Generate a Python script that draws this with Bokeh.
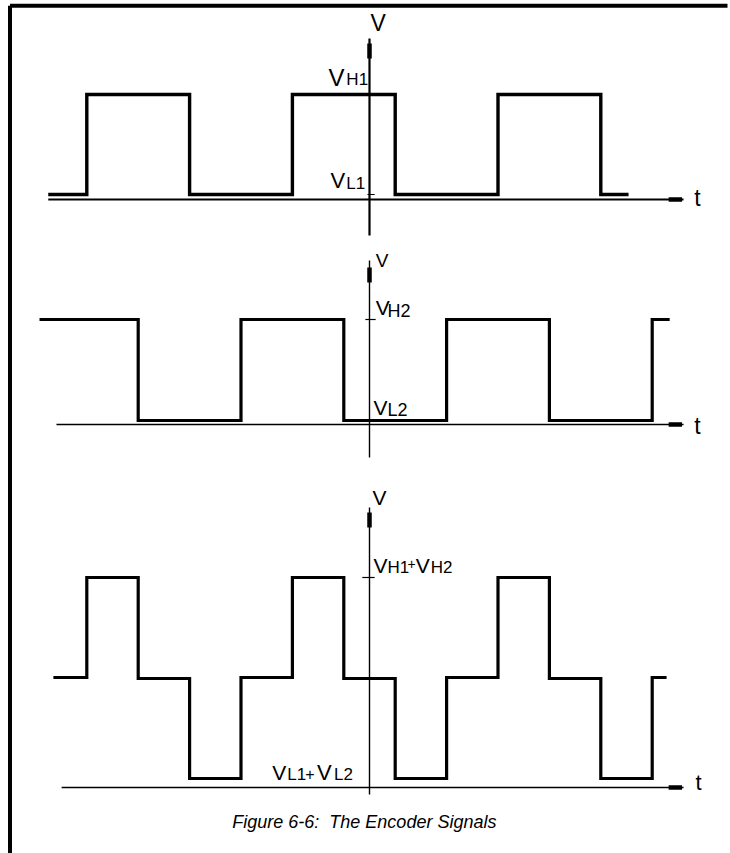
from bokeh.plotting import figure
from bokeh.models import Range1d
from bokeh.core.properties import value
from bokeh.embed import file_html
from bokeh.resources import INLINE

# ---------------- data ----------------
# time in quarter-period units (t = 0 on the V axis), voltage in arbitrary units
sig1_edges = [-5.5, -3.5, -1.5, 0.5, 2.5, 4.5]   # encoder signal 1 transitions
sig2_edges = [-4.5, -2.5, -0.5, 1.5, 3.5, 5.5]   # encoder signal 2 transitions
sig1_start_high = False
sig2_start_high = True
sig1_span = [-6.25, 5.04]
sig2_span = [-6.42, 5.84]
sum_span = [-6.15, 5.78]
V_L1, V_H1 = 0.05, 1.05
V_L2, V_H2 = 0.04, 1.05

caption = "Figure 6-6:\u00a0 The Encoder Signals"

# ---------------- layout constants ----------------
W, H = 730, 853
PX_PER_T = 51.4
AXIS_PX = 369          # V axis position (pixels from left)
PX_PER_V = 100.0
base_px = [199, 424, 787]   # baseline (V=0) of each panel, pixels from top
FONT = "'Liberation Sans', Arial, Helvetica, sans-serif"
LABEL_DY = 0.08        # raise of the labels above their nominal baseline

x_start = -AXIS_PX / PX_PER_T
x_end = (W - AXIS_PX) / PX_PER_T
span_v = H / PX_PER_V


def yrange(b):
    end = b / PX_PER_V
    return Range1d(end - span_v, end)


p = figure(width=W, height=H, x_range=Range1d(x_start, x_end), y_range=yrange(base_px[0]),
           x_axis_type=None, y_axis_type=None, min_border=0, toolbar_location=None,
           output_backend="svg", outline_line_color=None, background_fill_color="white",
           border_fill_color="white")
p.grid.visible = False
p.extra_y_ranges = {"p2": yrange(base_px[1]), "p3": yrange(base_px[2])}
RN = ["default", "p2", "p3"]


def steps(edges, span, lo, hi, start_high):
    state = start_high
    xs, ys = [span[0]], [hi if state else lo]
    for e in edges:
        xs.append(e); ys.append(hi if state else lo)
        state = not state
        xs.append(e); ys.append(hi if state else lo)
    xs.append(span[1]); ys.append(hi if state else lo)
    return xs, ys


def level_at(edges, lo, hi, start_high, t):
    n = sum(1 for e in edges if e <= t)
    state = start_high if n % 2 == 0 else (not start_high)
    return hi if state else lo


def sum_steps():
    all_edges = sorted(sig1_edges + sig2_edges)
    f = lambda t: (level_at(sig1_edges, V_L1, V_H1, sig1_start_high, t)
                   + level_at(sig2_edges, V_L2, V_H2, sig2_start_high, t))
    xs, ys = [sum_span[0]], [f(sum_span[0])]
    for e in all_edges:
        xs.append(e); ys.append(f(e - 1e-6))
        xs.append(e); ys.append(f(e + 1e-6))
    xs.append(sum_span[1]); ys.append(f(sum_span[1]))
    return xs, ys


# ---------------- borders (left edge and top edge) ----------------
left_t = (9.5 - AXIS_PX) / PX_PER_T
top_v = (base_px[0] - 5.3) / PX_PER_V
p.segment(x0=[left_t], x1=[left_t], y0=[top_v], y1=[-10],
          line_color="black", line_width=4)
p.segment(x0=[left_t], x1=[(727 - AXIS_PX) / PX_PER_T], y0=[top_v], y1=[top_v],
          line_color="black", line_width=4)

# ---------------- axes ----------------
axis_v = [(1.61, -0.36), (1.64, -0.33), (2.80, -0.07)]
arrow_v = [(1.56, 1.41), (1.57, 1.42), (2.75, 2.60)]
axis_w = [2.2, 1.4, 1.4]
base_start = [-6.25, -6.09, -5.99]
base_end = 6.11
arrow_t = (5.82, 6.08)
for i in range(3):
    kw = {} if i == 0 else {"y_range_name": RN[i]}
    p.segment(x0=[0], x1=[0], y0=[axis_v[i][1]], y1=[axis_v[i][0]],
              line_color="black", line_width=axis_w[i], **kw)
    p.segment(x0=[0], x1=[0], y0=[arrow_v[i][1]], y1=[arrow_v[i][0]],
              line_color="black", line_width=4.5, **kw)
    p.segment(x0=[base_start[i]], x1=[base_end], y0=[0], y1=[0],
              line_color="black", line_width=2 if i == 0 else 1.6, **kw)
    p.segment(x0=[arrow_t[0]], x1=[arrow_t[1]], y0=[0], y1=[0],
              line_color="black", line_width=4.5, **kw)

# ticks on axes
p.segment(x0=[-0.04], x1=[0.10], y0=[V_L1], y1=[V_L1], line_color="black", line_width=1.2)
p.segment(x0=[-0.08], x1=[0.12], y0=[V_H2], y1=[V_H2], line_color="black",
          line_width=1.2, y_range_name="p2")
p.segment(x0=[-0.14], x1=[0.10], y0=[V_H1 + V_H2], y1=[V_H1 + V_H2], line_color="black",
          line_width=1.2, y_range_name="p3")

# ---------------- signals ----------------
x1, y1 = steps(sig1_edges, sig1_span, V_L1, V_H1, sig1_start_high)
p.line(x1, y1, line_color="black", line_width=3.4, line_join="miter")
x2, y2 = steps(sig2_edges, sig2_span, V_L2, V_H2, sig2_start_high)
p.line(x2, y2, line_color="black", line_width=3.2, line_join="miter", y_range_name="p2")
x3, y3 = sum_steps()
p.line(x3, y3, line_color="black", line_width=3.2, line_join="miter", y_range_name="p3")

# ---------------- labels ----------------
# (text, t, v, size, panel)
labels = [
    ("V", 0.02, 1.69, 23, 0), ("t", 6.32, -0.06, 23, 0),
    ("V", -0.80, 1.14, 24, 0), ("H1", -0.45, 1.12, 17, 0),
    ("V", -0.76, 0.11, 22, 0), ("L1", -0.45, 0.08, 17, 0),
    ("V", 0.12, 1.56, 19, 1), ("t", 6.32, -0.09, 23, 1),
    ("V", 0.12, 1.09, 21, 1), ("H2", 0.35, 1.06, 18, 1),
    ("V", 0.08, 0.09, 21, 1), ("L2", 0.35, 0.07, 18, 1),
    ("V", 0.06, 2.82, 21, 2), ("t", 6.34, -0.03, 22, 2),
    ("V", 0.08, 2.14, 21, 2), ("H1", 0.35, 2.12, 17, 2), ("+", 0.74, 2.16, 14, 2),
    ("V", 0.90, 2.14, 21, 2), ("H2", 1.19, 2.12, 17, 2),
    ("V", -1.89, 0.07, 21, 2), ("L1", -1.60, 0.05, 17, 2), ("+", -1.25, 0.06, 16, 2),
    ("V", -1.02, 0.07, 22, 2), ("L2", -0.69, 0.05, 17, 2),
]
for txt, tx, vy, sz, pi in labels:
    kw = {} if pi == 0 else {"y_range_name": RN[pi]}
    p.text(x=[tx], y=[vy + LABEL_DY], text=[txt], text_font=value(FONT),
           text_font_size=value(f"{sz}px"), text_align="left",
           text_baseline="alphabetic", text_color="black", **kw)

p.text(x=[-0.10], y=[-0.34], text=[caption], text_font=value(FONT),
       text_font_size=value("18px"), text_font_style="italic", text_align="center",
       text_baseline="alphabetic", text_color="black", y_range_name="p3")

open("out.html", "w").write(file_html(p, INLINE))
